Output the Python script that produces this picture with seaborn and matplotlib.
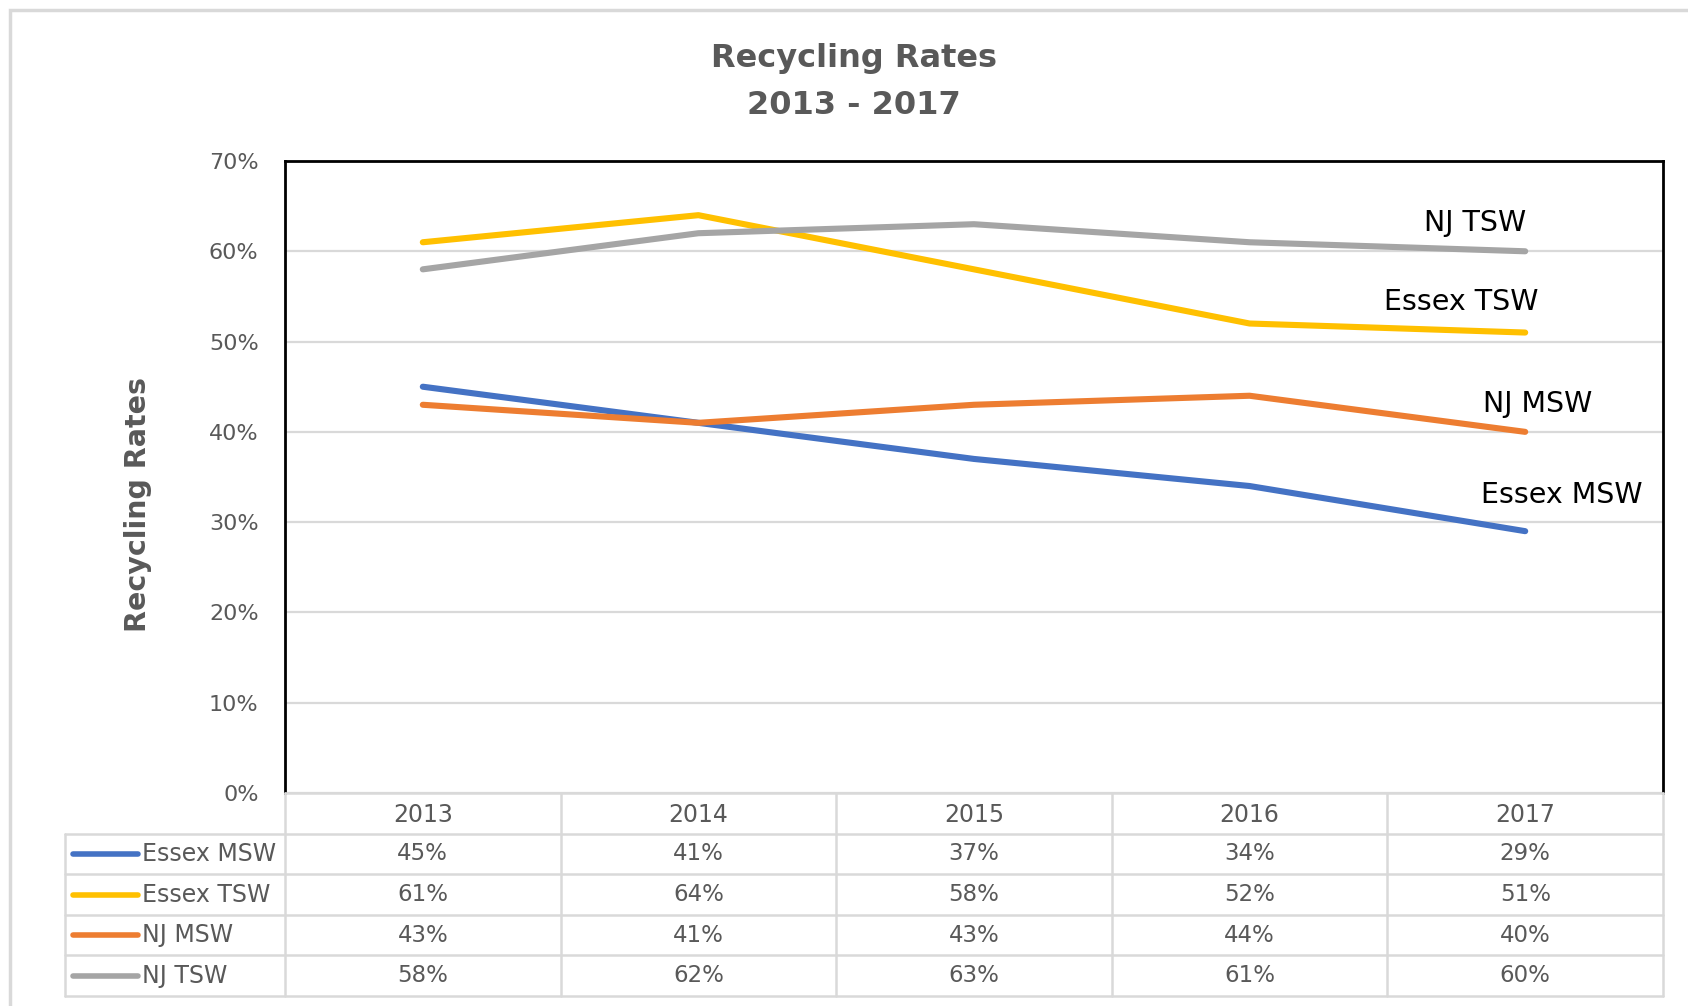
import matplotlib
matplotlib.use("Agg")
import matplotlib.pyplot as plt
import seaborn as sns
import pandas as pd
from matplotlib.patches import Rectangle
from matplotlib.lines import Line2D

# ---- data ----
years = ["2013", "2014", "2015", "2016", "2017"]
series_names = ["Essex MSW", "Essex TSW", "NJ MSW", "NJ TSW"]
essex_msw = [45, 41, 37, 34, 29]
essex_tsw = [61, 64, 58, 52, 51]
nj_msw = [43, 41, 43, 44, 40]
nj_tsw = [58, 62, 63, 61, 60]
colors = ["#4472C4", "#FFC000", "#ED7D31", "#A5A5A5"]
title_lines = ["Recycling Rates", "2013 - 2017"]
y_ticks = [0, 10, 20, 30, 40, 50, 60, 70]

values = [essex_msw, essex_tsw, nj_msw, nj_tsw]
df = pd.DataFrame([
    {"idx": i, "year": y, "series": s, "value": v}
    for s, vals in zip(series_names, values)
    for i, (y, v) in enumerate(zip(years, vals))
])

sns.set_theme(style="white")
plt.rcParams["font.family"] = ["DejaVu Sans"]
plt.rcParams["lines.solid_capstyle"] = "round"
plt.rcParams["lines.solid_joinstyle"] = "round"

W, H = 1688, 1006
fig = plt.figure(figsize=(W / 100, H / 100), dpi=100)
fig.patch.set_facecolor("white")

def fx(px):
    return px / W

def fy(py):
    return 1 - py / H

# outer chart border
fig.patches.append(Rectangle((fx(10), fy(1100)), 1.5, fy(10) - fy(1100),
                             transform=fig.transFigure, fill=False,
                             edgecolor="#D9D9D9", linewidth=2.5))

L, R, T, B = 285, 1663, 161, 793
ax = fig.add_axes([fx(L), fy(B), fx(R) - fx(L), fy(T) - fy(B)])
ax.set_facecolor("white")

sns.lineplot(data=df, x="idx", y="value", hue="series", hue_order=series_names,
             palette=colors, linewidth=4.4, legend=False, sort=False, ax=ax)

ax.set_xlim(-0.5, 4.5)
ax.set_ylim(0, 70)
ax.set_yticks(y_ticks)
ax.set_yticklabels([f"{t}%" for t in y_ticks], fontsize=16, color="#595959")
ax.set_xticks(range(len(years)))
ax.set_xticklabels(years, fontsize=17, color="#595959")
ax.tick_params(axis="x", length=0, pad=7)
ax.tick_params(axis="y", length=0, pad=19)
ax.yaxis.grid(True, color="#D9D9D9", linewidth=1.6)
ax.set_axisbelow(True)
ax.set_xlabel("")
ax.set_ylabel("")
for side in ["left", "top", "right"]:
    ax.spines[side].set_color("black")
    ax.spines[side].set_linewidth(2.0)
ax.spines["bottom"].set_visible(False)

# y label
fig.text(fx(138), fy(504), "Recycling Rates", rotation=90, ha="center", va="center",
         fontsize=20.5, fontweight="bold", color="#595959")

# title
fig.text(fx(854), fy(58), title_lines[0], ha="center", va="center",
         fontsize=23, fontweight="bold", color="#595959")
fig.text(fx(854), fy(105), title_lines[1], ha="center", va="center",
         fontsize=23, fontweight="bold", color="#595959")

# series end labels
label_pos = {"NJ TSW": (3.818, 63.1), "Essex TSW": (3.767, 54.4),
             "NJ MSW": (4.046, 43.1), "Essex MSW": (4.134, 33.0)}
for name, (x, y) in label_pos.items():
    ax.text(x, y, name, ha="center", va="center", fontsize=20.5, color="black")

# ---- data table ----
tb = fig.add_axes([fx(L), fy(996), fx(R) - fx(L), fy(793) - fy(996)])
tb.set_xlim(-0.5, 4.5)
tb.set_ylim(5, 0)
tb.axis("off")
gc = "#D9D9D9"
glw = 1.8
unit = (R - L) / 5
legend_left = -0.5 - (L - 65) / unit
# horizontal lines
tb.plot([-0.5, 4.5], [0, 0], color=gc, lw=glw, clip_on=False)
for r in range(1, 6):
    tb.plot([legend_left, 4.5], [r, r], color=gc, lw=glw, clip_on=False)
# vertical lines
for c in range(6):
    tb.plot([c - 0.5, c - 0.5], [0, 5], color=gc, lw=glw, clip_on=False)
tb.plot([legend_left, legend_left], [1, 5], color=gc, lw=glw, clip_on=False)

for r, (name, vals, col) in enumerate(zip(series_names, values, colors), start=1):
    x0 = -0.5 + (73 - L) / unit
    x1 = -0.5 + (138 - L) / unit
    tb.add_line(Line2D([x0, x1], [r + 0.5, r + 0.5], color=col, lw=4.0,
                       solid_capstyle="round", clip_on=False))
    tb.text(-0.5 + (142 - L) / unit, r + 0.5, name, ha="left", va="center",
            fontsize=17, color="#595959", clip_on=False)
    for c, v in enumerate(vals):
        tb.text(c, r + 0.5, f"{v}%", ha="center", va="center",
                fontsize=16.5, color="#595959")

fig.savefig("out.png", dpi=100, facecolor="white")
